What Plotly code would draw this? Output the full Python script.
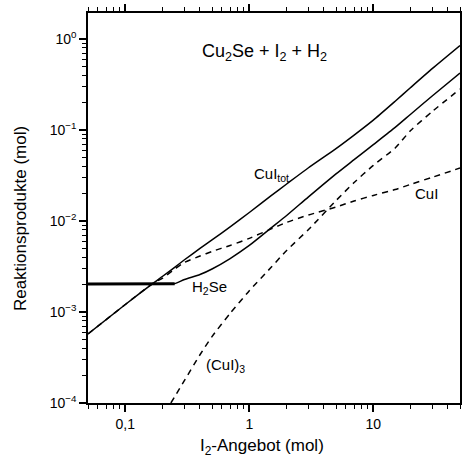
import plotly.graph_objects as go

# ---- data ----
x_tot = [0.05, 0.1, 0.164, 0.2, 0.25, 0.3, 0.4, 0.5, 0.7, 1, 1.5, 2, 3, 5, 7, 10, 15, 20, 30, 50]
y_tot = [5.73e-4, 1.21e-3, 2.03e-3, 2.47e-3, 3.10e-3, 3.75e-3, 5.0e-3, 6.2e-3, 8.6e-3,
         0.0124, 0.0190, 0.0255, 0.0385, 0.0625, 0.088, 0.1285, 0.2072, 0.293, 0.475, 0.848]

x_h2se = [0.05, 0.1, 0.2, 0.25, 0.3, 0.4, 0.5, 0.7, 1, 1.5, 2, 3, 5, 7, 10, 15, 20, 30, 50]
y_h2se = [2.03e-3, 2.03e-3, 2.03e-3, 2.05e-3, 2.28e-3, 2.58e-3, 2.97e-3, 3.87e-3, 5.39e-3,
          8.4e-3, 0.0115, 0.01845, 0.0329, 0.0472, 0.0691, 0.1068, 0.1492, 0.238, 0.423]
n_plateau = 4

x_cui = [0.05, 0.1, 0.164, 0.2, 0.25, 0.3, 0.4, 0.5, 0.7, 1, 1.5, 2, 3, 5, 7, 10, 15, 20, 30, 50]
y_cui = [5.73e-4, 1.21e-3, 2.03e-3, 2.363e-3, 2.96e-3, 3.51e-3, 4.12e-3, 4.63e-3, 5.39e-3,
         6.45e-3, 8.19e-3, 9.67e-3, 0.01164, 0.01425, 0.0166, 0.0191, 0.0222, 0.0253, 0.0303, 0.0382]

x_cui3 = [0.233, 0.25, 0.3, 0.4, 0.5, 0.7, 1, 1.5, 2, 3, 5, 7, 10, 15, 20, 30, 50]
y_cui3 = [1.0e-4, 1.17e-4, 1.77e-4, 3.39e-4, 5.37e-4, 9.65e-4, 1.714e-3, 3.10e-3, 4.75e-3,
          8.06e-3, 0.01676, 0.0265, 0.0409, 0.0634, 0.0988, 0.1605, 0.282]

x_tickvals = [0.1, 1, 10]
x_ticktext = ["0,1", "1", "10"]
y_tickvals = [1e-4, 1e-3, 1e-2, 1e-1, 1]
y_ticktext = ["10<sup>\u22124</sup>", "10<sup>\u22123</sup>", "10<sup>\u22122</sup>",
              "10<sup>\u22121</sup>", "10<sup>0</sup>"]

# ---- figure ----
BLACK = "black"
FONT = "Liberation Sans, Arial, sans-serif"
X_RANGE = [-1.301, 1.699]
Y_RANGE = [-4, 0.286]
fig = go.Figure()

solid = dict(color=BLACK, width=1.5, shape="spline", smoothing=0.6)
dashed = dict(color=BLACK, width=1.5, dash="6px,5px", shape="spline", smoothing=0.6)

fig.add_trace(go.Scatter(x=x_tot, y=y_tot, mode="lines", line=solid))
fig.add_trace(go.Scatter(x=x_h2se, y=y_h2se, mode="lines", line=solid))
fig.add_trace(go.Scatter(x=x_h2se[:n_plateau], y=y_h2se[:n_plateau], mode="lines",
                         line=dict(color=BLACK, width=3)))
fig.add_trace(go.Scatter(x=x_cui, y=y_cui, mode="lines", line=dashed))
fig.add_trace(go.Scatter(x=x_cui3, y=y_cui3, mode="lines", line=dashed))

ann_font = dict(family=FONT, size=15, color=BLACK)
fig.add_annotation(x=0.126, y=-0.143, text="Cu<sub>2</sub>Se + I<sub>2</sub> + H<sub>2</sub>",
                   showarrow=False, font=dict(family=FONT, size=18, color=BLACK))
fig.add_annotation(x=0.175, y=-1.484, text="CuI<sub>tot</sub>", showarrow=False, font=ann_font)
fig.add_annotation(x=1.425, y=-1.703, text="CuI", showarrow=False, font=ann_font)
fig.add_annotation(x=-0.325, y=-2.736, text="H<sub>2</sub>Se", showarrow=False, font=ann_font)
fig.add_annotation(x=-0.196, y=-3.593, text="(CuI)<sub>3</sub>", showarrow=False, font=ann_font)

# axis titles
fig.add_annotation(xref="paper", yref="paper", x=0.468, y=-0.113,
                   xanchor="center", yanchor="middle",
                   text="I<sub>2</sub>-Angebot (mol)", showarrow=False,
                   font=dict(family=FONT, size=17, color=BLACK))
fig.add_annotation(xref="paper", yref="paper", x=-0.183, y=0.474, textangle=-90,
                   xanchor="center", yanchor="middle",
                   text="Reaktionsprodukte (mol)", showarrow=False,
                   font=dict(family=FONT, size=17, color=BLACK))

axis_common = dict(showline=True, linecolor=BLACK, linewidth=1.5, mirror="allticks",
                   ticks="outside", ticklen=7, tickwidth=1.5, tickcolor=BLACK,
                   showgrid=False, zeroline=False, automargin=False,
                   tickmode="array",
                   minor=dict(dtick="D1", ticks="outside", ticklen=4, tickwidth=1.2,
                              tickcolor=BLACK, showgrid=False),
                   tickfont=dict(family=FONT, size=14, color=BLACK))

fig.update_layout(
    xaxis=dict(type="log", range=X_RANGE, tickvals=x_tickvals, ticktext=x_ticktext,
               **axis_common),
    yaxis=dict(type="log", range=Y_RANGE, tickvals=y_tickvals, ticktext=y_ticktext,
               **axis_common),
    width=462, height=465, showlegend=False,
    margin=dict(l=88, r=2, t=13, b=62),
    paper_bgcolor="white", plot_bgcolor="white",
)

fig.write_html("out.html", config={"displayModeBar": False},
               post_script="document.body.style.margin='0px';")
